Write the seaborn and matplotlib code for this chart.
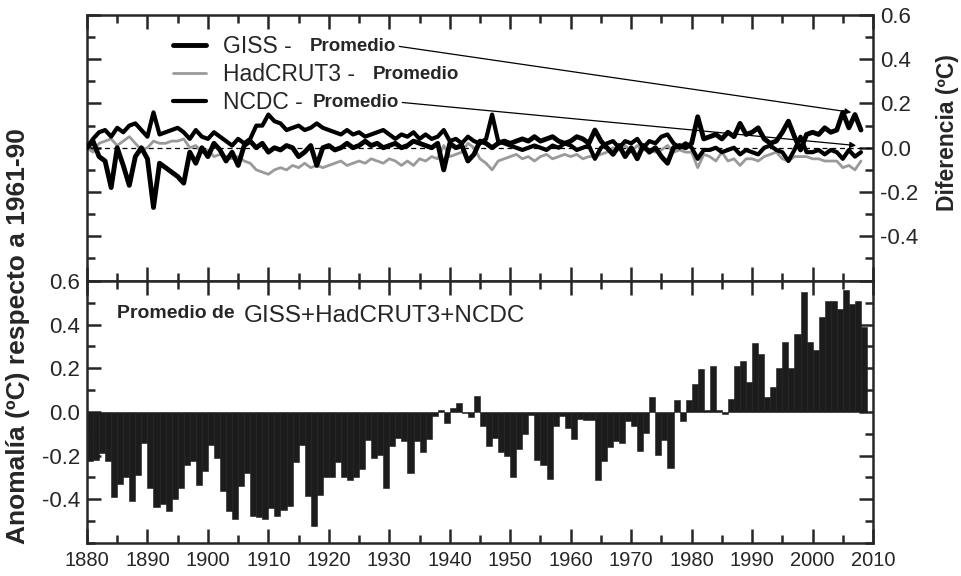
import numpy as np
import matplotlib
matplotlib.use('Agg')
import matplotlib.pyplot as plt
from matplotlib.ticker import MultipleLocator, FixedLocator
import seaborn as sns

# Años de la serie
years = np.arange(1880, 2009)

# Anomalía media (GISS+HadCRUT3+NCDC) respecto a 1961-90, en ºC
anomalia = [
    -0.225, -0.22, -0.19, -0.225, -0.39, -0.33, -0.30, -0.41, -0.29, -0.14,
    -0.35, -0.435, -0.42, -0.455, -0.40, -0.35, -0.245, -0.225, -0.335, -0.27,
    -0.15, -0.21, -0.36, -0.455, -0.49, -0.34, -0.28, -0.475, -0.48, -0.49,
    -0.44, -0.475, -0.45, -0.43, -0.23, -0.15, -0.385, -0.52, -0.38, -0.30,
    -0.30, -0.23, -0.30, -0.31, -0.30, -0.26, -0.13, -0.21, -0.195, -0.35,
    -0.155, -0.12, -0.135, -0.28, -0.135, -0.185, -0.125, -0.02, 0.01, -0.05,
    0.02, 0.04, -0.005, -0.025, 0.075, -0.065, -0.155, -0.12, -0.185, -0.20,
    -0.30, -0.17, -0.10, -0.015, -0.22, -0.245, -0.305, -0.065, -0.02, -0.075,
    -0.125, -0.03, -0.035, -0.035, -0.31, -0.225, -0.16, -0.135, -0.14, -0.04,
    -0.065, -0.18, -0.095, 0.07, -0.195, -0.13, -0.255, 0.055, -0.04, 0.055,
    0.13, 0.195, 0.01, 0.21, 0.01, -0.01, 0.06, 0.21, 0.235, 0.135,
    0.315, 0.265, 0.07, 0.115, 0.20, 0.32, 0.20, 0.355, 0.55, 0.32,
    0.285, 0.435, 0.51, 0.51, 0.47, 0.56, 0.495, 0.51, 0.39,
]

# Diferencias de cada serie respecto al promedio, en ºC
giss_dif = [
    0.00, 0.03, -0.04, -0.06, -0.18, 0.00, -0.08, -0.17, -0.04, 0.00,
    -0.05, -0.27, -0.07, -0.09, -0.11, -0.13, -0.16, -0.02, -0.07, 0.00,
    -0.04, 0.02, -0.01, -0.06, -0.02, -0.08, 0.01, 0.03, 0.00, 0.02,
    -0.02, 0.00, -0.01, 0.01, 0.00, -0.04, -0.02, 0.01, -0.08, 0.00,
    0.01, -0.01, 0.00, 0.02, 0.00, 0.01, 0.03, 0.01, 0.02, 0.00,
    0.01, 0.02, 0.00, 0.01, 0.03, 0.02, 0.01, 0.00, 0.02, -0.10,
    0.02, 0.00, 0.01, -0.06, -0.03, 0.03, 0.02, 0.00, 0.02, 0.03,
    0.02, 0.03, 0.04, 0.03, 0.05, 0.03, 0.04, 0.05, 0.03, 0.02,
    0.03, 0.05, 0.04, 0.02, 0.08, 0.03, 0.00, -0.03, 0.01, -0.04,
    0.00, -0.05, 0.01, -0.02, 0.00, -0.04, -0.07, 0.00, 0.01, 0.00,
    0.02, 0.14, 0.04, 0.05, 0.06, 0.04, 0.07, 0.05, 0.11, 0.06,
    0.07, 0.09, 0.04, 0.02, 0.03, 0.07, 0.12, 0.05, -0.01, 0.06,
    0.07, 0.06, 0.09, 0.07, 0.08, 0.16, 0.09, 0.15, 0.08,
]
hadcrut3_dif = [
    0.00, -0.02, 0.02, 0.03, 0.04, 0.01, 0.03, 0.05, 0.02, -0.01,
    0.00, 0.03, 0.02, 0.02, 0.03, 0.03, 0.04, 0.00, 0.01, -0.02,
    -0.01, -0.04, -0.03, -0.04, -0.05, -0.04, -0.06, -0.07, -0.10, -0.11,
    -0.12, -0.10, -0.09, -0.10, -0.08, -0.09, -0.07, -0.09, -0.08, -0.09,
    -0.08, -0.07, -0.06, -0.08, -0.07, -0.06, -0.07, -0.05, -0.06, -0.07,
    -0.05, -0.06, -0.08, -0.06, -0.08, -0.05, -0.06, -0.04, -0.05, 0.01,
    -0.04, -0.03, -0.02, 0.02, 0.00, -0.05, -0.07, -0.10, -0.06, -0.05,
    -0.04, -0.03, -0.05, -0.04, -0.06, -0.04, -0.03, -0.05, -0.04, -0.03,
    -0.04, -0.03, -0.05, -0.04, -0.04, -0.03, -0.02, 0.00, -0.01, 0.01,
    -0.02, 0.01, -0.01, -0.01, -0.02, -0.01, 0.01, -0.02, -0.01, -0.02,
    -0.02, -0.09, -0.03, -0.04, -0.06, -0.02, -0.06, -0.05, -0.08, -0.05,
    -0.05, -0.06, -0.04, -0.03, -0.02, -0.05, -0.06, -0.04, -0.04, -0.04,
    -0.05, -0.05, -0.06, -0.06, -0.06, -0.09, -0.08, -0.10, -0.06,
]
ncdc_dif = [
    0.00, 0.04, 0.07, 0.08, 0.05, 0.09, 0.07, 0.10, 0.11, 0.08,
    0.05, 0.16, 0.06, 0.07, 0.08, 0.09, 0.07, 0.04, 0.08, 0.05,
    0.04, 0.07, 0.05, 0.03, 0.01, 0.04, 0.02, 0.04, 0.10, 0.10,
    0.15, 0.12, 0.11, 0.08, 0.09, 0.10, 0.08, 0.09, 0.11, 0.09,
    0.08, 0.07, 0.06, 0.08, 0.06, 0.07, 0.05, 0.06, 0.07, 0.08,
    0.06, 0.04, 0.06, 0.05, 0.07, 0.04, 0.06, 0.04, 0.05, 0.08,
    0.03, 0.04, 0.02, 0.05, 0.03, 0.02, 0.04, 0.15, 0.03, 0.02,
    0.01, 0.00, -0.01, 0.00, 0.01, 0.00, -0.01, 0.01, 0.00, 0.02,
    0.01, -0.01, 0.00, 0.01, -0.05, 0.00, 0.02, 0.03, 0.00, 0.03,
    0.02, 0.04, 0.00, 0.03, 0.02, 0.05, 0.06, 0.02, 0.00, 0.02,
    0.00, -0.05, -0.01, -0.01, 0.00, -0.02, -0.01, 0.00, -0.03, -0.01,
    -0.02, -0.03, 0.00, 0.01, -0.01, -0.02, -0.06, -0.01, 0.05, -0.02,
    -0.02, -0.01, -0.03, -0.01, -0.02, -0.05, -0.01, -0.04, -0.02,
]

etiquetas = ['GISS -', 'HadCRUT3 -', 'NCDC -']
# punta de las flechas (año, ºC) para GISS y NCDC
flecha_giss = (2006.4, 0.16)
flecha_ncdc = (2007.2, 0.01)

sns.set_style('ticks')
plt.rcParams['font.family'] = ['Liberation Sans', 'DejaVu Sans']
plt.rcParams['axes.linewidth'] = 1.8

fig = plt.figure(figsize=(9.61, 5.76), dpi=100)
ax1 = fig.add_axes([0.0905, 0.513, 0.818, 0.461])
ax2 = fig.add_axes([0.0905, 0.0573, 0.818, 0.455])

# --- panel superior: diferencias ---
ax1.axhline(0, color='black', lw=0.9, ls=(0, (4, 3)), zorder=1)
sns.lineplot(x=years, y=hadcrut3_dif, color='#9a9a9a', lw=2, ax=ax1,
             label=etiquetas[1], zorder=2)
sns.lineplot(x=years, y=ncdc_dif, color='black', lw=3, ax=ax1,
             label=etiquetas[2], zorder=3)
sns.lineplot(x=years, y=giss_dif, color='black', lw=3.5, ax=ax1,
             label=etiquetas[0], zorder=4)

handles, labels = ax1.get_legend_handles_labels()
orden = [labels.index(e) for e in etiquetas]
leg = ax1.legend([handles[i] for i in orden], [labels[i] for i in orden],
                 loc='upper left', bbox_to_anchor=(0.109, 0.925), frameon=False,
                 fontsize=16.5, handlelength=1.45, handletextpad=0.75,
                 labelspacing=0.22, borderpad=0, borderaxespad=0)

ax1.set_xlim(1880, 2010)
ax1.set_ylim(-0.6, 0.6)
ax1.yaxis.set_major_locator(FixedLocator([-0.4, -0.2, 0.0, 0.2, 0.4, 0.6]))
ax1.yaxis.set_minor_locator(MultipleLocator(0.1))
ax1.xaxis.set_major_locator(MultipleLocator(10))
ax1.xaxis.set_minor_locator(MultipleLocator(5))
ax1.tick_params(axis='both', which='both', direction='in', top=True, bottom=True,
                left=True, right=True, labelbottom=False, labelleft=False,
                labelright=True, width=1.8)
ax1.tick_params(which='major', length=10)
ax1.tick_params(which='minor', length=6)
ax1.tick_params(axis='y', labelsize=16, pad=5)
ax1.set_yticklabels(['-0.4', '-0.2', '0.0', '0.2', '0.4', '0.6'])
ax1.set_xlabel('')
ax1.set_ylabel('')

# --- panel inferior: anomalía promedio ---
sns.barplot(x=years + 0.5, y=anomalia, native_scale=True, width=1,
            color='#1c1c1c', saturation=1, errorbar=None, ax=ax2,
            edgecolor='#1c1c1c', linewidth=0.4)
ax2.set_xlim(1880, 2010)
ax2.set_ylim(-0.6, 0.6)
ax2.yaxis.set_major_locator(FixedLocator([-0.4, -0.2, 0.0, 0.2, 0.4, 0.6]))
ax2.yaxis.set_minor_locator(MultipleLocator(0.1))
ax2.xaxis.set_major_locator(MultipleLocator(10))
ax2.xaxis.set_minor_locator(MultipleLocator(5))
ax2.set_yticklabels(['-0.4', '-0.2', '0.0', '0.2', '0.4', '0.6'])
ax2.set_xticks(np.arange(1880, 2011, 10))
ax2.set_xticklabels([str(a) for a in range(1880, 2011, 10)])
ax2.tick_params(axis='both', which='both', direction='in', top=True, bottom=True,
                left=True, right=True, width=1.8)
ax2.tick_params(which='major', length=10)
ax2.tick_params(which='minor', length=6)
ax2.tick_params(axis='x', labelsize=14.5, pad=6)
ax2.tick_params(axis='y', labelsize=16, pad=5)
ax2.set_xlabel('')
ax2.set_ylabel('')

t1 = ax2.text(0.038, 0.857, 'Promedio de', transform=ax2.transAxes,
              fontsize=14, fontweight='bold', va='baseline')

fig.text(0.019, 0.417, 'Anomalía (ºC) respecto a 1961-90', rotation=90,
         fontsize=19, fontweight='bold', ha='center', va='center')
fig.text(0.986, 0.769, 'Diferencia (ºC)', rotation=90,
         fontsize=16.5, fontweight='bold', ha='center', va='center')

# textos "Promedio" tras la leyenda y flechas
fig.canvas.draw()
bb = t1.get_window_extent()
x_fig = fig.transFigure.inverted().transform((bb.x1 + 9, bb.y0))
fig.text(x_fig[0], x_fig[1], 'GISS+HadCRUT3+NCDC', fontsize=17.5)

destinos = {0: flecha_giss, 2: flecha_ncdc}
huecos = [18, 18, 10]
for i, txt in enumerate(leg.get_texts()):
    bb = txt.get_window_extent()
    pos = fig.transFigure.inverted().transform((bb.x1 + huecos[i],
                                                 (bb.y0 + bb.y1) / 2))
    p = fig.text(pos[0], pos[1], 'Promedio', fontsize=13.5, fontweight='bold',
                 va='center')
    if i in destinos:
        fig.canvas.draw()
        pb = p.get_window_extent()
        ax1.annotate('', xy=destinos[i], xycoords='data',
                     xytext=(pb.x1 + 3, (pb.y0 + pb.y1) / 2),
                     textcoords='figure pixels',
                     arrowprops=dict(arrowstyle='-|>', color='black', lw=0.9,
                                     mutation_scale=9, shrinkA=0, shrinkB=0))

fig.savefig('out.png', dpi=100)
